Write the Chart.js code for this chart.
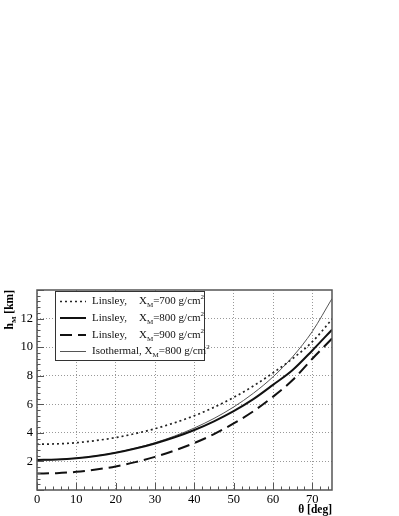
<!DOCTYPE html>
<html>
<head>
<meta charset="utf-8">
<script src="https://cdn.jsdelivr.net/npm/chart.js@4.4.0/dist/chart.umd.min.js"></script>
<style>
  html, body { margin: 0; padding: 0; background: #fff; }
  #wrap { width: 399px; height: 516px; }
</style>
</head>
<body>
<div id="wrap"><canvas id="chart" width="399" height="516"></canvas></div>
<script>
// zenith angle (deg) and height of shower maximum (km)
const theta = [0, 5, 10, 15, 20, 25, 30, 35, 40, 45, 50, 55, 60, 65, 70, 75];
const linsley700 = [3.20, 3.23, 3.31, 3.46, 3.67, 3.95, 4.29, 4.71, 5.20, 5.79, 6.48, 7.28, 8.20, 9.20, 10.38, 11.95];
const linsley800 = [2.10, 2.14, 2.23, 2.38, 2.60, 2.90, 3.26, 3.69, 4.20, 4.81, 5.52, 6.36, 7.36, 8.40, 9.77, 11.22];
const linsley900 = [1.15, 1.18, 1.27, 1.43, 1.65, 1.95, 2.32, 2.77, 3.29, 3.91, 4.66, 5.51, 6.53, 7.70, 9.19, 10.60];
const isothermal800 = [2.10, 2.13, 2.23, 2.39, 2.62, 2.93, 3.31, 3.78, 4.34, 5.01, 5.81, 6.77, 7.92, 9.33, 11.10, 13.40];

const xTicks = [0, 10, 20, 30, 40, 50, 60, 70];
const yTicks = [2, 4, 6, 8, 10, 12];
const legendModels = ["Linsley,", "Linsley,", "Linsley,", "Isothermal,"];
const legendDepths = ["700", "800", "900", "800"];

const serif = "'Liberation Serif', 'DejaVu Serif', serif";
const frameColor = "#555";

const toPoints = (vals) => theta.map((t, i) => ({ x: t, y: vals[i] }));

const styles = [
  { data: linsley700, dash: [2, 3], width: 1.7, color: "#222" },
  { data: linsley800, dash: [], width: 2, color: "#111" },
  { data: linsley900, dash: [12, 6], width: 2, color: "#111" },
  { data: isothermal800, dash: [], width: 1, color: "#555" },
];

// ROOT-like frame, inward ticks, legend and axis titles
const decorations = {
  id: "decorations",
  afterDraw(chart) {
    const { ctx, chartArea: a, scales } = chart;
    const x = scales.x, y = scales.y;
    ctx.save();

    // ticks inside the frame
    ctx.strokeStyle = frameColor;
    ctx.lineWidth = 1;
    ctx.beginPath();
    for (let v = 0; v <= 75; v += 2) {
      const px = Math.round(x.getPixelForValue(v)) + 0.5;
      const len = v % 10 === 0 ? 7 : 3.5;
      ctx.moveTo(px, a.bottom);
      ctx.lineTo(px, a.bottom - len);
    }
    for (let i = 0; i <= 35; i++) {
      const v = i * 0.4;
      const py = Math.round(y.getPixelForValue(v)) + 0.5;
      const len = i % 5 === 0 ? 7 : 3.5;
      ctx.moveTo(a.left, py);
      ctx.lineTo(a.left + len, py);
    }
    ctx.stroke();

    // frame
    ctx.lineWidth = 1.5;
    ctx.strokeRect(a.left, a.top, a.right - a.left, a.bottom - a.top);

    // legend
    const lx = 55, ly = 291, lw = 149, lh = 69;
    ctx.fillStyle = "#fff";
    ctx.fillRect(lx, ly, lw, lh);
    ctx.lineWidth = 1;
    ctx.strokeStyle = "#333";
    ctx.strokeRect(lx + 0.5, ly + 0.5, lw, lh);
    const rows = [301.5, 318, 335, 351.5];
    ctx.fillStyle = "#111";
    ctx.textBaseline = "middle";
    rows.forEach((ry, i) => {
      const s = styles[i];
      ctx.beginPath();
      ctx.setLineDash(s.dash);
      ctx.lineWidth = s.width;
      ctx.strokeStyle = s.color;
      ctx.moveTo(60, ry);
      ctx.lineTo(86, ry);
      ctx.stroke();
      ctx.setLineDash([]);

      ctx.font = "11px " + serif;
      ctx.textAlign = "left";
      ctx.fillText(legendModels[i], 92, ry);
      let tx = Math.max(139, 92 + ctx.measureText(legendModels[i] + " ").width);
      ctx.fillText("X", tx, ry);
      tx += ctx.measureText("X").width;
      ctx.font = "7px " + serif;
      ctx.fillText("M", tx, ry + 4);
      tx += ctx.measureText("M").width;
      ctx.font = "11px " + serif;
      const main = "=" + legendDepths[i] + " g/cm";
      ctx.fillText(main, tx, ry);
      tx += ctx.measureText(main).width;
      ctx.font = "7px " + serif;
      ctx.fillText("2", tx, ry - 4);
    });

    // x title
    ctx.fillStyle = "#000";
    ctx.font = "bold 11.5px " + serif;
    ctx.textAlign = "right";
    ctx.textBaseline = "alphabetic";
    ctx.fillText("\u03b8 [deg]", a.right, 513);

    // y title, rotated
    ctx.translate(13, 290);
    ctx.rotate(-Math.PI / 2);
    ctx.textAlign = "left";
    ctx.font = "bold 11.5px " + serif;
    const wH = ctx.measureText("h").width;
    const wK = ctx.measureText(" [km]").width;
    ctx.font = "bold 7px " + serif;
    const wM = ctx.measureText("M").width;
    let px = -(wH + wM + wK);
    ctx.font = "bold 11.5px " + serif;
    ctx.fillText("h", px, 0);
    px += wH;
    ctx.font = "bold 7px " + serif;
    ctx.fillText("M", px, 3);
    px += wM;
    ctx.font = "bold 11.5px " + serif;
    ctx.fillText(" [km]", px, 0);

    ctx.restore();
  },
};

new Chart(document.getElementById("chart"), {
  type: "line",
  data: {
    datasets: styles.map((s) => ({
      data: toPoints(s.data),
      borderColor: s.color,
      borderWidth: s.width,
      borderDash: s.dash,
      pointRadius: 0,
      fill: false,
      cubicInterpolationMode: "monotone",
    })),
  },
  options: {
    responsive: false,
    animation: false,
    layout: { padding: { top: 290, right: 67, left: 0, bottom: 0 } },
    plugins: { legend: { display: false }, tooltip: { enabled: false } },
    scales: {
      x: {
        type: "linear",
        min: 0,
        max: 75,
        afterFit: (s) => { s.height = 26; },
        afterBuildTicks: (s) => { s.ticks = xTicks.map((v) => ({ value: v })); },
        ticks: { color: "#000", font: { family: serif, size: 12.5 }, padding: 2, maxRotation: 0 },
        grid: { color: "rgba(0,0,0,0.4)", lineWidth: 1, drawTicks: false },
        border: { display: false, dash: [1, 2] },
      },
      y: {
        min: 0,
        max: 14,
        afterFit: (s) => { s.width = 37; },
        afterBuildTicks: (s) => { s.ticks = yTicks.map((v) => ({ value: v })); },
        ticks: { color: "#000", font: { family: serif, size: 12.5 }, padding: 4 },
        grid: { color: "rgba(0,0,0,0.4)", lineWidth: 1, drawTicks: false },
        border: { display: false, dash: [1, 2] },
      },
    },
  },
  plugins: [decorations],
});
</script>
</body>
</html>
